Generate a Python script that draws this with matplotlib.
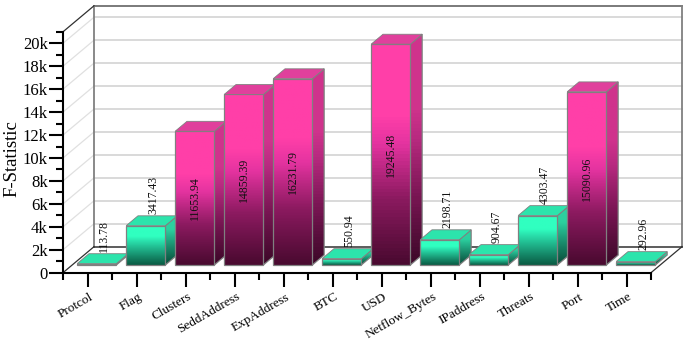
#!/usr/bin/env python3
import matplotlib
matplotlib.use("Agg")
import matplotlib.pyplot as plt
from matplotlib.colors import LinearSegmentedColormap
from matplotlib.patches import Polygon
from matplotlib.ticker import FixedLocator, FuncFormatter
from matplotlib.transforms import ScaledTranslation
import numpy as np

CATEGORIES = ["Protcol", "Flag", "Clusters", "SeddAddress", "ExpAddress", "BTC", "USD",
              "Netflow_Bytes", "IPaddress", "Threats", "Port", "Time"]
VALUES = [113.78, 3417.43, 11653.94, 14859.39, 16231.79, 550.94, 19245.48,
          2198.71, 904.67, 4303.47, 15090.96, 292.96]
VALUE_LABELS = ["113.78", "3417.43", "11653.94", "14859.39", "16231.79", "550.94", "19245.48",
                "2198.71", "904.67", "4303.47", "15090.96", "292.96"]
HIGH_SERIES = {"Clusters", "SeddAddress", "ExpAddress", "USD", "Port"}
Y_MAX = 21000
GREY_LINE = "#d0d0d0"

# depth of the wall, in category widths and value units
DEPTH_X = 31 / 49
DEPTH_Y = 26 / 22.94 * 2000

FRONT_PINK = LinearSegmentedColormap.from_list(
    "pink", [(0, "#4a0a30"), (0.3, "#8c1a60"), (0.55, "#e433a0"), (0.68, "#ff3fa8"), (1, "#ff3fa8")])
SIDE_PINK = LinearSegmentedColormap.from_list(
    "pink_side", [(0, "#3c0828"), (0.3, "#7a1654"), (0.55, "#b82a80"), (0.68, "#cf338c"), (1, "#cf338c")])
FRONT_GREEN = LinearSegmentedColormap.from_list(
    "green", [(0, "#0a5c44"), (0.3, "#1a9c78"), (0.6, "#2ae0ac"), (0.72, "#30ffc0"), (1, "#30ffc0")])
SIDE_GREEN = LinearSegmentedColormap.from_list(
    "green_side", [(0, "#084c38"), (0.3, "#167f62"), (0.6, "#25b88e"), (0.72, "#2cd09f"), (1, "#2cd09f")])


def project(x, value, depth):
    return x + depth * DEPTH_X, value + depth * DEPTH_Y


def gradient_face(ax, corners, cmap, zorder):
    corners = np.array(corners, float)
    xs, ys = corners[:, 0], corners[:, 1]
    patch = Polygon(corners, closed=True, facecolor="none", edgecolor="#808080",
                    linewidth=0.9, zorder=zorder + 0.001, clip_on=False)
    gradient = np.linspace(1, 0, 64).reshape(-1, 1)
    image = ax.imshow(gradient, extent=[xs.min(), xs.max(), ys.min(), ys.max()], cmap=cmap,
                      vmin=0, vmax=1, aspect="auto", zorder=zorder)
    ax.add_patch(patch)
    image.set_clip_path(patch)
    # images stop at the axes box otherwise, and the last bar sticks out of it
    image.set_clip_box(ax.figure.bbox)


def draw_bar(ax, index, value, high):
    left, right = index + 0.1, index + 0.9
    near, far = 0.3, 0.68
    zorder = 3 + index * 0.01

    front = [project(left, 0, near), project(right, 0, near),
             project(right, value, near), project(left, value, near)]
    side = [project(right, 0, near), project(right, 0, far),
            project(right, value, far), project(right, value, near)]
    top = [project(left, value, near), project(right, value, near),
           project(right, value, far), project(left, value, far)]

    gradient_face(ax, side, SIDE_PINK if high else SIDE_GREEN, zorder)
    gradient_face(ax, front, FRONT_PINK if high else FRONT_GREEN, zorder + 0.002)
    ax.add_patch(Polygon(top, closed=True, facecolor="#e0409c" if high else "#2ce4ac",
                         edgecolor="#808080", linewidth=0.6, zorder=zorder + 0.004,
                         clip_on=False))


def draw_walls(ax):
    grid_values = np.arange(2000, 20001, 2000)
    for value in grid_values:
        x0, y0 = project(0, value, 0)
        x1, y1 = project(0, value, 1)
        x2, y2 = project(12, value, 1)
        ax.plot([x0, x1], [y0, y1], color="#e0e0e0", linewidth=0.9, clip_on=False, zorder=1)
        ax.plot([x1, x2], [y1, y2], color=GREY_LINE, linewidth=1.1, clip_on=False, zorder=1)

    for start, end, color in [
        ((0, Y_MAX), (12, Y_MAX), "#707070"),
        ((0, 0), (0, Y_MAX), "#808080"),
        ((12, 0), (12, Y_MAX), "#808080"),
    ]:
        a = project(start[0], start[1], 1)
        b = project(end[0], end[1], 1)
        ax.plot([a[0], b[0]], [a[1], b[1]], color=color, linewidth=1.3, clip_on=False, zorder=1.5)

    floor_back = [project(0, 0, 1), project(12, 0, 1)]
    ax.plot(*zip(*floor_back), color="#303030", linewidth=1.1, clip_on=False, zorder=1.6)
    for x, value in [(0, 0), (12, 0), (0, Y_MAX)]:
        ax.plot(*zip(project(x, value, 0), project(x, value, 1)), color="#303030",
                linewidth=0.9, clip_on=False, zorder=1.6)


def main():
    plt.rcParams["font.family"] = ["Liberation Serif", "DejaVu Serif"]
    fig = plt.figure(figsize=(6.85, 3.42), dpi=100)
    ax = fig.add_axes([63 / 685, (342 - 272.7) / 342, 588 / 685, 240.9 / 342])
    ax.set_facecolor("none")

    draw_walls(ax)
    for index, (name, value) in enumerate(zip(CATEGORIES, VALUES)):
        draw_bar(ax, index, value, name in HIGH_SERIES)

    for index, (name, value, label) in enumerate(zip(CATEGORIES, VALUES, VALUE_LABELS)):
        if name in HIGH_SERIES:
            x, y = project(index + 0.5, value / 2, 0.3)
            ax.text(x, y, label, rotation=90, ha="center", va="center", fontsize=8.5,
                    color="#111111", zorder=6, clip_on=False)
        else:
            x, _ = project(index + 0.53, value, 0.49)
            _, y = project(index + 0.5, value, 0.68)
            ax.text(x, y + 150, label, rotation=90, ha="center", va="bottom", fontsize=8.5,
                    color="#111111", zorder=6, clip_on=False)

    ax.set_xlim(0, 12)
    ax.set_ylim(0, Y_MAX)
    for side in ["top", "right"]:
        ax.spines[side].set_visible(False)
    for side in ["left", "bottom"]:
        ax.spines[side].set_linewidth(1.5)
        ax.spines[side].set_zorder(7)

    ax.yaxis.set_major_locator(FixedLocator(np.arange(0, 20001, 2000)))
    ax.yaxis.set_minor_locator(FixedLocator(np.arange(1000, 21001, 2000)))
    ax.yaxis.set_major_formatter(FuncFormatter(lambda v, _: "0" if v == 0 else f"{v / 1000:.0f}k"))
    ax.tick_params(axis="y", which="major", length=10, width=1.5, labelsize=12, pad=1)
    ax.tick_params(axis="y", which="minor", length=5, width=1.5)

    ax.xaxis.set_major_locator(FixedLocator(np.arange(12) + 0.5))
    ax.xaxis.set_minor_locator(FixedLocator(np.arange(13)))
    ax.set_xticklabels(CATEGORIES, rotation=30, ha="right", rotation_mode="anchor", fontsize=9.5)
    ax.tick_params(axis="x", which="major", length=10, width=1.5, pad=3)
    ax.tick_params(axis="x", which="minor", length=5, width=1.5)
    shift = ScaledTranslation(2 / 100, 0, fig.dpi_scale_trans)
    for tick_label in ax.get_xticklabels():
        tick_label.set_transform(tick_label.get_transform() + shift)

    fig.text(12 / 685, 1 - 159 / 342, "F-Statistic", rotation=90, ha="center", va="center",
             fontsize=13.5)
    fig.savefig("out.png", dpi=100)
    plt.close(fig)


if __name__ == "__main__":
    main()
